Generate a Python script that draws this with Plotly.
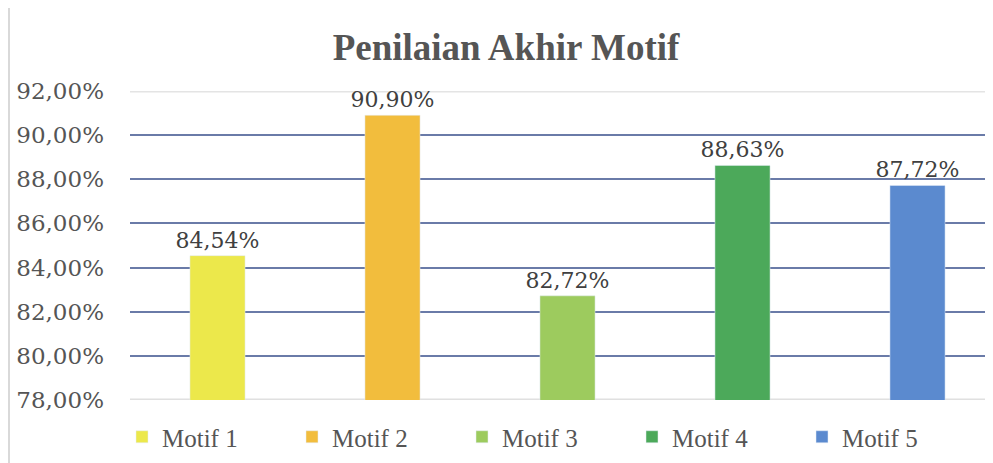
import plotly.graph_objects as go

categories = ["Motif 1", "Motif 2", "Motif 3", "Motif 4", "Motif 5"]
values = [84.54, 90.90, 82.72, 88.63, 87.72]
colors = ["#ECE84B", "#F2BD3D", "#9DCB5E", "#4CA95A", "#5B8ACF"]
tick_vals = [78, 80, 82, 84, 86, 88, 90, 92]
tick_text = [f"{v:.2f}".replace(".", ",") + "%" for v in tick_vals]

fig = go.Figure()
for i, (c, v, col) in enumerate(zip(categories, values, colors)):
    fig.add_trace(go.Bar(
        x=[i], y=[v], name=c, marker_color=col, width=0.315,
        text=[f"{v:.2f}".replace(".", ",") + "%"], textposition="outside",
        constraintext="none",
        textfont=dict(family="DejaVu Serif", size=22, color="#404040"),
        cliponaxis=False,
    ))

OFF = 8  # page body margin
W, H = 993 - OFF, 463 - OFF
L, R, T, B = 130 - OFF, 0, 91 - OFF, 463 - 400
pw, ph = W - L - R, H - T - B

def px_x(p):
    return (p - OFF - L) / pw

def px_y(p):
    return (T + ph - (p - OFF)) / ph

fig.update_layout(
    width=W, height=H,
    margin=dict(l=L, r=R, t=T, b=B, autoexpand=False),
    paper_bgcolor="white", plot_bgcolor="white",
    title=dict(text="<b>Penilaian Akhir Motif</b>", x=px_x(506), xref="paper", xanchor="center",
               y=1 - (47 - OFF) / H, yanchor="middle",
               font=dict(family="Liberation Serif", size=37, color="#555555")),
    showlegend=True,
    legend=dict(orientation="h", x=px_x(122), xanchor="left", y=px_y(437), yanchor="middle",
                font=dict(family="Liberation Serif", size=25, color="#555555"),
                itemwidth=30, entrywidth=125, traceorder="normal"),
    xaxis=dict(range=[-0.5, -0.5 + pw / 175], showticklabels=False, showgrid=False, zeroline=False,
               showline=False),
    yaxis=dict(range=[78, 92], tickvals=tick_vals, ticktext=tick_text, showgrid=True,
               gridcolor="#6A7BA8", gridwidth=2, zeroline=False, showline=False,
               tickfont=dict(family="DejaVu Serif", size=23, color="#555555"), ticks="",
               ticklabelstandoff=25),
    bargap=0.5,
    shapes=[
        dict(type="line", xref="paper", yref="y", x0=0, x1=1, y0=92, y1=92, layer="below",
             line=dict(color="#E4E4E4", width=3)),
        dict(type="line", xref="paper", yref="y", x0=0, x1=1, y0=78, y1=78, layer="below",
             line=dict(color="#E0E0E0", width=3)),
        dict(type="line", xref="paper", yref="paper", x0=px_x(9), x1=px_x(9),
             y0=px_y(463), y1=px_y(8), line=dict(color="#D9D9D9", width=2)),
    ],
)

fig.write_html("out.html")
